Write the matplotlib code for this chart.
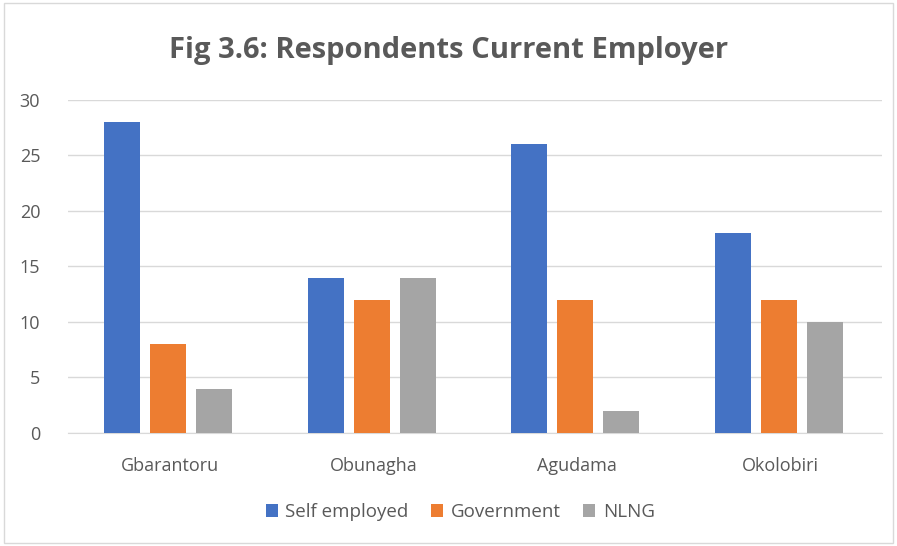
import matplotlib.pyplot as plt
import numpy as np
from matplotlib.patches import Rectangle

# data
villages = ['Gbarantoru', 'Obunagha', 'Agudama', 'Okolobiri']
self_employed = [28, 14, 26, 18]
government = [8, 12, 12, 12]
nlng = [4, 14, 2, 10]

series_names = ['Self employed', 'Government', 'NLNG']
series_colors = ['#4472C4', '#ED7D31', '#A5A5A5']

plt.rcParams['font.family'] = ['Open Sans', 'DejaVu Sans']

fig = plt.figure(figsize=(8.97, 5.46), dpi=100)
ax = fig.add_axes([0.0758, 0.207, 0.908, 0.610])

# outer chart border
fig.patches.append(Rectangle((0.004, 0.006), 0.992, 0.988, transform=fig.transFigure,
                             fill=False, edgecolor='#D9D9D9', linewidth=1))

x = np.arange(len(villages))
step = 0.226
width = 0.177
for i, (vals, name, col) in enumerate(zip([self_employed, government, nlng], series_names, series_colors)):
    ax.bar(x + (i - 1) * step - 0.008, vals, width=width, color=col, label=name, zorder=3)

ax.set_xlim(-0.5, len(villages) - 0.5)
ax.set_ylim(0, 30)
ax.set_yticks(range(0, 31, 5))
ax.set_xticks(x)
ax.set_xticklabels(villages)
ax.grid(axis='y', color='#D9D9D9', linewidth=1, zorder=0)
for s in ['top', 'right', 'left']:
    ax.spines[s].set_visible(False)
ax.spines['bottom'].set_color('#D9D9D9')
ax.tick_params(axis='both', length=0, labelsize=13, colors='#595959')
ax.tick_params(axis='x', pad=17)
ax.tick_params(axis='y', pad=20)

fig.text(0.5, 0.908, 'Fig 3.6: Respondents Current Employer', ha='center', va='center',
         fontsize=21, fontweight='bold', color='#595959')

fig.legend(loc='center', bbox_to_anchor=(0.513, 0.062), ncol=3, frameon=False,
           fontsize=13.5, handlelength=0.65, handleheight=0.65, handletextpad=0.4,
           columnspacing=1.2, labelcolor='#595959')

plt.savefig('out.png', dpi=100)
